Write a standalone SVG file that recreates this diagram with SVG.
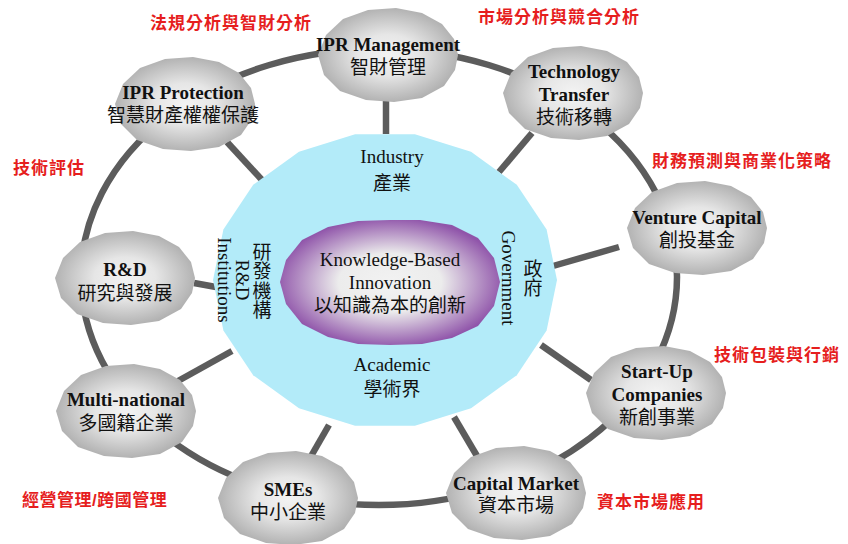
<svg xmlns="http://www.w3.org/2000/svg" xmlns:xlink="http://www.w3.org/1999/xlink" width="848" height="544" viewBox="0 0 848 544">
<style>
.conn{stroke:#5c5c5c;stroke-width:6.5;fill:none;stroke-linecap:butt}
.en{font-family:"Liberation Serif","Times New Roman",serif;font-weight:bold;font-size:19px;fill:#111;text-anchor:middle}
.zh{font-family:"Liberation Sans","Noto Sans CJK TC",sans-serif;font-size:19px;fill:#111;text-anchor:middle}
.cen{font-family:"Liberation Serif","Times New Roman",serif;font-size:19px;fill:#111;text-anchor:middle}
.red{font-family:"Liberation Sans","Noto Sans CJK TC",sans-serif;font-weight:bold;font-size:17px;fill:#e61e1e;letter-spacing:1px}
</style>
<defs>
<radialGradient id="gblob" cx="50%" cy="50%" r="55%">
<stop offset="0" stop-color="#f3f3f3"/>
<stop offset="0.4" stop-color="#e6e6e6"/>
<stop offset="1" stop-color="#a9a9a9"/>
</radialGradient>
<radialGradient id="gpur" cx="50%" cy="50%" r="52%">
<stop offset="0" stop-color="#f2f2f2"/>
<stop offset="0.45" stop-color="#ececec"/>
<stop offset="1" stop-color="#9055aa"/>
</radialGradient>
<polygon id="blob" points="70,0 66,-16 54,-31 34,-42 8,-47 -20,-45 -45,-36 -62,-20 -70,0 -64,20 -48,36 -22,45 6,47 34,43 56,31 67,15" fill="url(#gblob)"/>
</defs>
<rect width="848" height="544" fill="#fff"/>
<g id="connectors">
<ellipse class="conn" cx="379" cy="277" rx="298" ry="228"/>
<line class="conn" x1="386" y1="98" x2="386" y2="134"/>
<line class="conn" x1="227" y1="142" x2="262" y2="180"/>
<line class="conn" x1="532" y1="133" x2="499" y2="172"/>
<line class="conn" x1="619" y1="247" x2="553" y2="266"/>
<line class="conn" x1="541" y1="345" x2="591" y2="380"/>
<line class="conn" x1="454" y1="417" x2="477" y2="456"/>
<line class="conn" x1="329" y1="425" x2="310" y2="458"/>
<line class="conn" x1="178" y1="381" x2="232" y2="351"/>
<line class="conn" x1="194" y1="283" x2="216" y2="287"/>
</g>
<g id="core">
<polygon fill="#b3ebf9" points="557,280 546.6,330.6 516.8,375.2 471,408.2 414.9,425.8 355.1,425.8 299,408.2 253.2,375.2 223.4,330.6 213,280 223.4,229.4 253.2,184.8 299,151.8 355.1,134.2 414.9,134.2 471,151.8 516.8,184.8 546.6,229.4"/>
<text class="cen" x="392" y="163">Industry</text>
<text class="zh" x="392" y="190">產業</text>
<text class="cen" x="392" y="371">Academic</text>
<text class="zh" x="392" y="396">學術界</text>
<text class="cen" transform="translate(224,280) rotate(90)" dominant-baseline="central">Institutions</text>
<text class="cen" transform="translate(242,280) rotate(90)" dominant-baseline="central">R&amp;D</text>
<text class="zh" x="262" y="259"><tspan x="262">研</tspan><tspan x="262" dy="19.3">發</tspan><tspan x="262" dy="19.3">機</tspan><tspan x="262" dy="19.3">構</tspan></text>
<text class="cen" transform="translate(508,278) rotate(90)" dominant-baseline="central">Government</text>
<text class="zh" x="533" y="276"><tspan x="533">政</tspan><tspan x="533" dy="19.3">府</tspan></text>
</g>
<g id="innovation">
<polygon fill="url(#gpur)" points="500,282 494,258 478,238 452,225 420,220 390,220 358,221 328,227 302,240 286,260 280,282 286,304 302,324 328,337 358,344 390,345 422,344 452,338 478,326 494,306"/>
<text class="cen" x="390" y="266">Knowledge-Based</text>
<text class="cen" x="390" y="289">Innovation</text>
<text class="zh" x="390" y="312">以知識為本的創新</text>
</g>
<g id="ipr-management">
<use xlink:href="#blob" href="#blob" transform="translate(388,55)"/>
<text class="en" x="388" y="51">IPR Management</text>
<text class="zh" x="388" y="74">智財管理</text>
</g>
<g id="ipr-protection">
<use xlink:href="#blob" href="#blob" transform="translate(185,104)"/>
<text class="en" x="183" y="99">IPR Protection</text>
<text class="zh" x="183" y="122">智慧財產權權保護</text>
</g>
<g id="technology-transfer">
<use xlink:href="#blob" href="#blob" transform="translate(573,93)"/>
<text class="en" x="574" y="78">Technology</text>
<text class="en" x="574" y="101">Transfer</text>
<text class="zh" x="574" y="124">技術移轉</text>
</g>
<g id="venture-capital">
<use xlink:href="#blob" href="#blob" transform="translate(697,228)"/>
<text class="en" x="697" y="224">Venture Capital</text>
<text class="zh" x="697" y="247">創投基金</text>
</g>
<g id="start-up">
<use xlink:href="#blob" href="#blob" transform="translate(656,393)"/>
<text class="en" x="657" y="378">Start-Up</text>
<text class="en" x="657" y="401">Companies</text>
<text class="zh" x="657" y="424">新創事業</text>
</g>
<g id="capital-market">
<use xlink:href="#blob" href="#blob" transform="translate(516,493)"/>
<text class="en" x="516" y="490">Capital Market</text>
<text class="zh" x="516" y="512">資本市場</text>
</g>
<g id="smes">
<use xlink:href="#blob" href="#blob" transform="translate(288,498)"/>
<text class="en" x="288" y="496">SMEs</text>
<text class="zh" x="288" y="519">中小企業</text>
</g>
<g id="multi-national">
<use xlink:href="#blob" href="#blob" transform="translate(126,411)"/>
<text class="en" x="126" y="406">Multi-national</text>
<text class="zh" x="126" y="430">多國籍企業</text>
</g>
<g id="rd">
<use xlink:href="#blob" href="#blob" transform="translate(125,278)"/>
<text class="en" x="125" y="276">R&amp;D</text>
<text class="zh" x="125" y="300">研究與發展</text>
</g>
<g id="labels">
<text class="red" x="150" y="29">法規分析與智財分析</text>
<text class="red" x="478" y="23">市場分析與競合分析</text>
<text class="red" x="13" y="174">技術評估</text>
<text class="red" x="652" y="167">財務預測與商業化策略</text>
<text class="red" x="714" y="361">技術包裝與行銷</text>
<text class="red" x="597" y="508">資本市場應用</text>
<text class="red" x="22" y="506" style="letter-spacing:0.5px">經營管理/跨國管理</text>
</g>
</svg>
